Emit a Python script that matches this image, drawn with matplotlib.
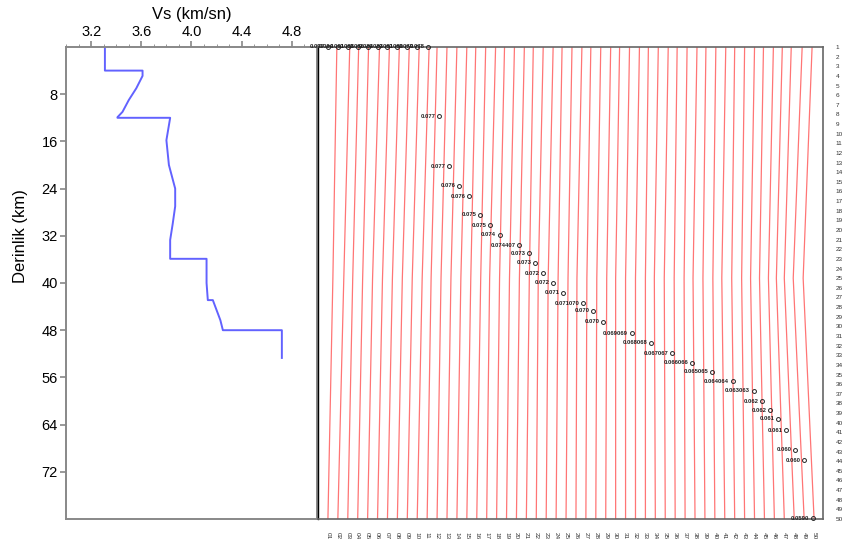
import numpy as np
import matplotlib
matplotlib.use("Agg")
import matplotlib.pyplot as plt
from matplotlib.ticker import MultipleLocator

plt.rcParams["font.family"] = ["Liberation Sans", "DejaVu Sans"]

# Vs profile (km/sn) vs depth (km)
vs = [3.31, 3.31, 3.61, 3.61, 3.56, 3.50, 3.45, 3.41, 3.41, 3.83, 3.80, 3.82,
      3.87, 3.87, 3.85, 3.83, 3.83, 4.12, 4.12, 4.13, 4.17, 4.23, 4.25, 4.72, 4.72]
depth = [0, 4.0, 4.0, 4.9, 7.0, 9.0, 11.0, 11.9, 12.0, 12.0, 15.8, 20.0,
         24.0, 27.0, 30.0, 32.7, 35.9, 35.9, 40.0, 42.9, 42.9, 46.3, 48.0, 48.0, 52.7]

vs_ticks = [3.2, 3.6, 4.0, 4.4, 4.8]
depth_ticks = [8, 16, 24, 32, 40, 48, 56, 64, 72]

# right panel: one trace per column, x shift at top / middle / bottom rows
n_col = 50
top_off = [0.9, 1.2, 1.1, 1.1, 1.2, 1.2, 1.2, 1.2, 1.2, 1.2, 1.0, 1.0,
           1.0, 1.0, 0.9, 0.9, 0.9, 0.8, 0.8, 0.8, 0.7, 0.7, 0.7, 0.6, 0.6,
           0.6, 0.5, 0.5, 0.5, 0.4, 0.4, 0.4, 0.3, 0.3, 0.3, 0.2, 0.2, 0.2,
           0.1, 0.1, 0.1, 0.0, 0.0, 0.0, -0.1, -0.1, -0.2, -0.3, -0.2, -0.2]
mid_off = [0.5, 0.6, 0.5, 0.5, 0.5, 0.5, 0.5, 0.5, 0.5, 0.5, 0.4, 0.4,
           0.4, 0.4, 0.4, 0.4, 0.3, 0.3, 0.3, 0.3, 0.3, 0.2, 0.2, 0.2, 0.2,
           0.1, 0.1, 0.1, 0.1, 0.0, 0.0, 0.0, 0.0, -0.1, -0.1, -0.1, -0.1, -0.2,
           -0.2, -0.2, -0.3, -0.3, -0.3, -0.4, -0.5, -0.6, -0.8, -1.0, -1.1, -1.1]
bot_off = [0.0] * n_col
trace_rows = [1, 25, 50]

# circle markers with their value labels
mk_x = [1.0, 2.0, 3.0, 4.0, 5.0, 6.0, 7.0, 8.0, 9.0, 10.0, 11.1,
        12.2, 13.2, 14.2, 15.2, 16.3, 17.3, 18.3, 20.3, 21.3, 21.9, 22.7,
        23.7, 24.7, 26.7, 27.7, 28.7, 31.6, 33.6, 35.7, 37.7, 39.7, 41.8,
        43.9, 44.8, 45.6, 46.4, 47.2, 48.1, 49.0, 49.9]
mk_y = [1, 1, 1, 1, 1, 1, 1, 1, 1, 1, 1,
        8.2, 13.4, 15.4, 16.5, 18.4, 19.5, 20.5, 21.6, 22.4, 23.4, 24.5,
        25.5, 26.5, 27.6, 28.4, 29.5, 30.7, 31.7, 32.8, 33.8, 34.7, 35.7,
        36.7, 37.8, 38.7, 39.6, 40.8, 42.8, 43.9, 49.9]
mk_txt = ["0.097", "0.094", "0.091", "0.088", "0.086", "0.084", "0.083",
          "0.081", "0.080", "0.079", "0.078",
          "0.077", "0.077", "0.076", "0.076", "0.075", "0.075", "0.074",
          "0.074407", "0.073", "0.073", "0.072", "0.072", "0.071",
          "0.071070", "0.070", "0.070", "0.069069", "0.068068",
          "0.067067", "0.066066", "0.065065", "0.064064", "0.063063",
          "0.062", "0.062", "0.061", "0.061", "0.060", "0.060", "0.0590"]

col_labels = ["%02d" % i for i in range(1, n_col + 1)]
row_labels = [str(i) for i in range(1, n_col + 1)]

fig = plt.figure(figsize=(8.45, 5.56), dpi=100)
ax1 = fig.add_axes([66 / 845, 37 / 556, 251 / 845, 472 / 556])
ax2 = fig.add_axes([318 / 845, 37 / 556, 505 / 845, 472 / 556])

# ---- left panel: Vs profile
ax1.plot(vs, depth, color="#6262ff", lw=1.4)
ax1.set_xlim(3.0, 5.0)
ax1.set_ylim(80, 0)
ax1.xaxis.tick_top()
ax1.xaxis.set_label_position("top")
ax1.set_xticks(vs_ticks)
ax1.set_xticklabels([f"{v:.1f}" for v in vs_ticks])
ax1.xaxis.set_minor_locator(MultipleLocator(0.1))
ax1.set_yticks(depth_ticks)
ax1.set_xlabel("Vs (km/sn)", fontsize=12, labelpad=4)
ax1.set_ylabel("Derinlik (km)", fontsize=12)
ax1.yaxis.set_label_coords(-0.15, 0.6)
ax1.tick_params(axis="both", which="major", labelsize=10.5, length=4,
                color="#888888", width=1.2, pad=2)
ax1.tick_params(axis="x", which="minor", length=2, color="#888888")
for s in ax1.spines.values():
    s.set_color("#888888")
    s.set_linewidth(1.4)

# ---- right panel: traces
for j in range(n_col):
    c = j + 1
    xs = [c + top_off[j], c + mid_off[j], c + bot_off[j]]
    ax2.plot(xs, trace_rows, color="#ff7575", lw=0.9)

ax2.plot(mk_x, mk_y, "o", ms=2.8, mfc="none", mec="#222222", mew=0.7,
         ls="none", clip_on=False, zorder=4)
for x, y, t in zip(mk_x, mk_y, mk_txt):
    ax2.text(x - 0.35, y, t, fontsize=4.2, fontweight="bold", ha="right",
             va="center", color="#222222", zorder=5)

ax2.set_xlim(0, 50.9)
ax2.set_ylim(50, 1)
ax2.set_xticks(range(1, n_col + 1))
ax2.set_xticklabels(col_labels, rotation=270, fontsize=4.6)
ax2.yaxis.tick_right()
ax2.set_yticks(range(1, n_col + 1))
ax2.set_yticklabels(row_labels, fontsize=4.6)
ax2.tick_params(axis="x", length=0, pad=9, colors="#333333")
ax2.tick_params(axis="y", length=0, pad=9, colors="#333333")
ax2.spines["left"].set_color("black")
ax2.spines["left"].set_linewidth(1.0)
for k in ["top", "right", "bottom"]:
    ax2.spines[k].set_color("#666666")
    ax2.spines[k].set_linewidth(1.2)

fig.savefig("out.png", dpi=100)
